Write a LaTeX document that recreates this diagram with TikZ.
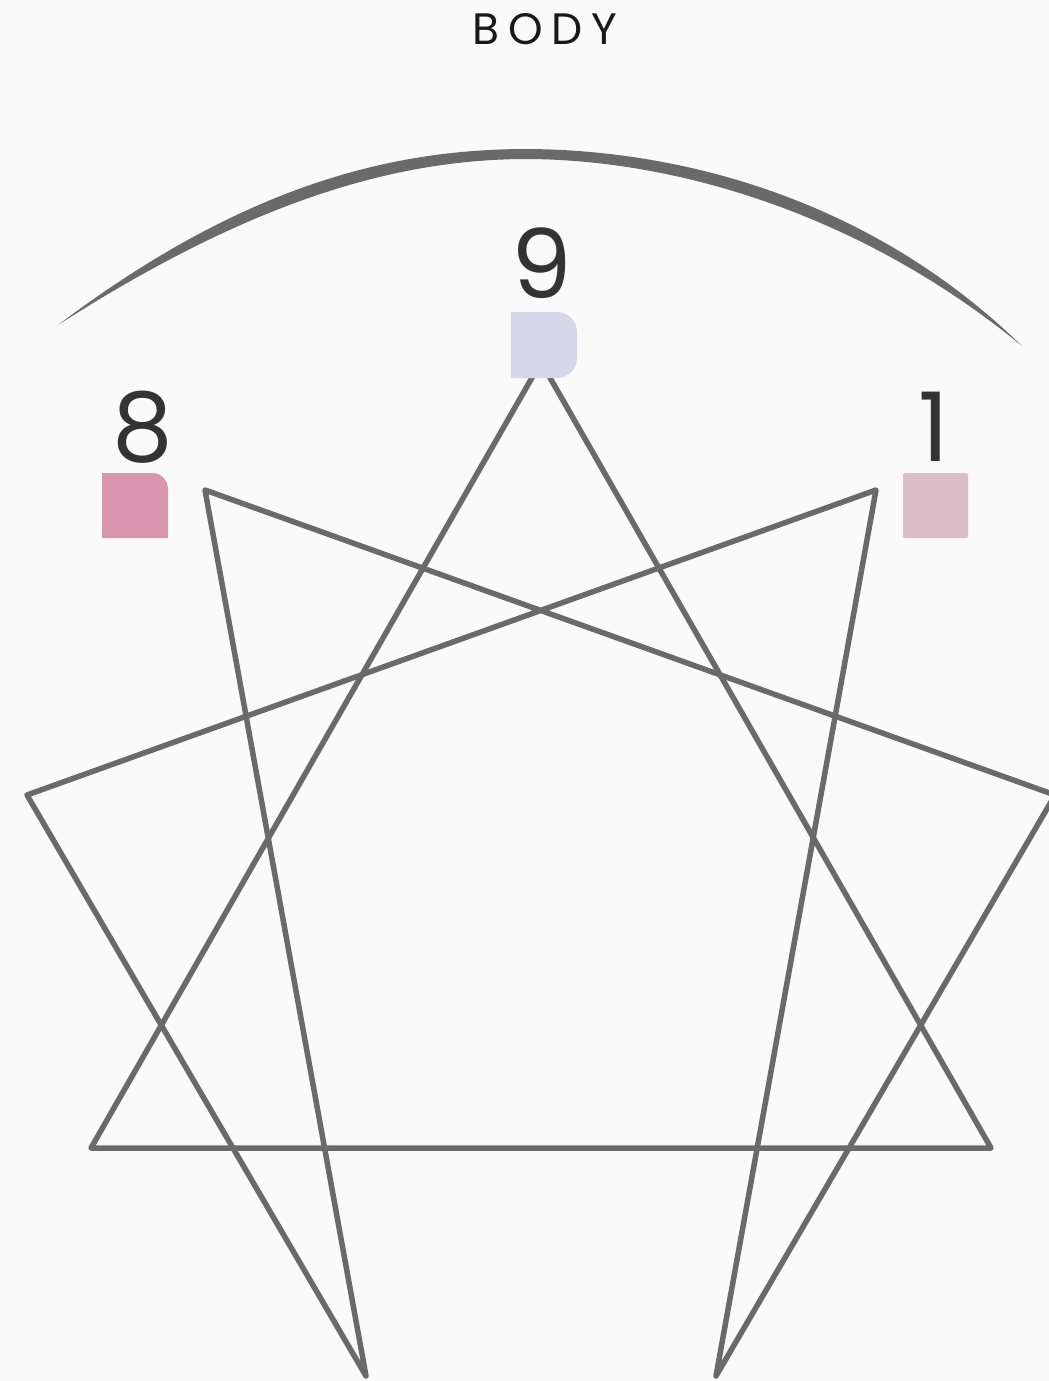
\documentclass[tikz,border=0pt]{standalone}
\usepackage{fontspec}
\setmainfont{Poppins}
\definecolor{bg}{HTML}{FAFAFA}
\definecolor{ln}{HTML}{6A6A6A}
\definecolor{txt}{HTML}{333333}
\definecolor{cnine}{HTML}{D4D7E8}
\definecolor{ceight}{HTML}{D896AE}
\definecolor{cone}{HTML}{DBBDC7}
\begin{document}
\begin{tikzpicture}[x=1pt,y=-1pt,
  star/.style={draw=ln,line width=5.5pt,line join=round,line cap=round},
  num/.style={text=txt,font=\fontsize{96}{96}\selectfont,inner sep=0pt,anchor=base}]
\useasboundingbox (0,0) rectangle (1049,1381);
\fill[bg] (0,0) rectangle (1049,1381);
\clip (0,0) rectangle (1049,1381);
% vertices
\coordinate (T) at (541,362);
\coordinate (UL) at (205,490);
\coordinate (UR) at (876,490);
\coordinate (L) at (27,795);
\coordinate (R) at (1055,795);
\coordinate (BL) at (91,1148);
\coordinate (BR) at (991,1148);
\coordinate (B1) at (366,1376);
\coordinate (B2) at (716,1376);
% title
\node[anchor=base,inner sep=0pt,text=black!90,font=\fontsize{44}{44}\selectfont\addfontfeature{LetterSpace=20}] (title) at (545,45) {BODY};
% arc
\fill[ln] (58,325) .. controls (250,180) and (400,149) .. (528,149)
  .. controls (680,150) and (870,198) .. (1022,346)
  .. controls (864,216) and (680,160) .. (528,159)
  .. controls (400,159) and (256,198) .. (58,325) -- cycle;
% star
\draw[star] (T) -- (BL) -- (BR) -- cycle;
\draw[star] (B1) -- (L) -- (UR) -- (B2) -- (R) -- (UL) -- cycle;
% squares
\fill[cnine] (511,312) -- (557,312) .. controls (568,312) and (577,321) .. (577,332)
  -- (577,358) .. controls (577,369) and (568,378) .. (557,378) -- (511,378) -- cycle;
\fill[ceight] (102,473) -- (152,473) .. controls (161,473) and (168,480) .. (168,489)
  -- (168,538) -- (102,538) -- cycle;
\fill[cone,rounded corners=2pt] (903,473) rectangle (968,538);
% numbers
\node[num] (n9) at (542,298) {9};
\node[num] (n8) at (143,461) {8};
\node[num] (n1) at (934,461) {1};
\end{tikzpicture}
\end{document}
